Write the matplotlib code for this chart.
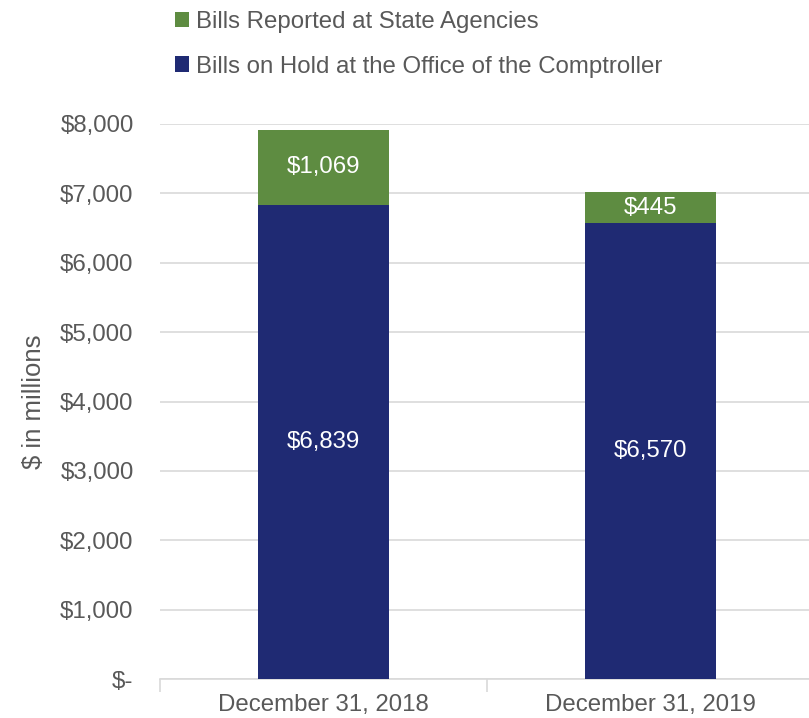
import matplotlib
matplotlib.use("Agg")
import matplotlib.pyplot as plt
import numpy as np
from matplotlib import ticker

categories = ["December 31, 2018", "December 31, 2019"]
on_hold = [6839, 6570]
reported = [1069, 445]
on_hold_labels = ["$6,839", "$6,570"]
reported_labels = ["$1,069", "$445"]
yticks = [0, 1000, 2000, 3000, 4000, 5000, 6000, 7000, 8000]
ytick_labels = ["$-", "$1,000", "$2,000", "$3,000", "$4,000", "$5,000", "$6,000", "$7,000", "$8,000"]

navy = "#1F2A73"
green = "#5E8C41"
grey_text = "#595959"
grid_col = "#D9D9D9"
fs = 17.3

plt.rcParams["font.family"] = ["Liberation Sans", "DejaVu Sans"]

fig = plt.figure(figsize=(8.09, 7.18), dpi=100)
ax = fig.add_axes([0.1978, 0.0543, 0.8082, 0.773])

x = np.arange(len(categories))
b1 = ax.bar(x, on_hold, width=0.4, color=navy, label="Bills on Hold at the Office of the Comptroller", zorder=3)
b2 = ax.bar(x, reported, width=0.4, bottom=on_hold, color=green, label="Bills Reported at State Agencies", zorder=3)

for i in range(len(categories)):
    ax.text(x[i], on_hold[i] / 2, on_hold_labels[i], ha="center", va="center", color="white", fontsize=fs, zorder=4)
    ax.text(x[i], on_hold[i] + reported[i] / 2, reported_labels[i], ha="center", va="center", color="white", fontsize=fs, zorder=4)

ax.set_xlim(-0.5, 1.5)
ax.set_ylim(0, 8000)
ax.set_yticks(yticks)
ax.set_yticklabels(ytick_labels)
ax.yaxis.grid(True, color=grid_col, linewidth=1.2, zorder=0)
ax.tick_params(axis="y", length=0, pad=19, labelsize=fs, labelcolor=grey_text)

ax.set_xticks(x)
ax.set_xticklabels(categories)
ax.tick_params(axis="x", which="major", length=0, pad=11, labelsize=fs, labelcolor=grey_text)
ax.xaxis.set_minor_locator(ticker.FixedLocator([-0.5, 0.5, 1.5]))
ax.tick_params(axis="x", which="minor", length=9, color=grid_col, width=1.2)

for s in ["top", "right", "left"]:
    ax.spines[s].set_visible(False)
ax.spines["bottom"].set_color(grid_col)
ax.spines["bottom"].set_linewidth(1.2)

ax.set_ylabel("$ in millions", fontsize=18.5, color=grey_text, labelpad=10)

handles = [b2, b1]
fig.legend(handles, [h.get_label() for h in handles], loc="upper left", bbox_to_anchor=(0.198, 1.005),
           frameon=False, fontsize=fs, labelcolor=grey_text, handlelength=0.62, handleheight=0.62,
           handletextpad=0.25, labelspacing=0.95, borderaxespad=0.2)

fig.savefig("out.png", dpi=100)
